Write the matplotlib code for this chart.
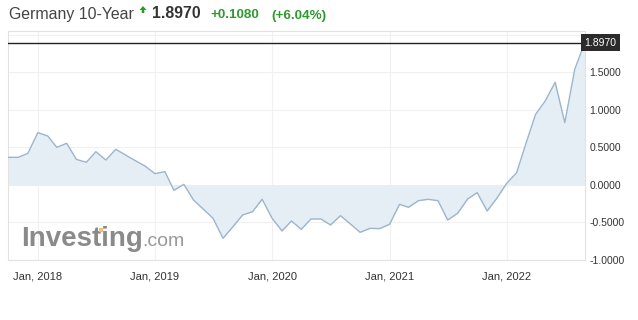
import matplotlib
matplotlib.use("Agg")
import matplotlib.pyplot as plt
import matplotlib.dates as mdates
from matplotlib.patches import Polygon
import pandas as pd
import numpy as np

# ---- data ----
start_month = "2017-10-01"
yields = [0.369, 0.369, 0.422, 0.698, 0.653, 0.502, 0.556, 0.342, 0.302, 0.444,
          0.333, 0.476, 0.400, 0.324, 0.253, 0.151, 0.178, -0.071, 0.009, -0.200,
          -0.324, -0.444, -0.711, -0.556, -0.400, -0.356, -0.191, -0.444, -0.613, -0.480,
          -0.591, -0.453, -0.453, -0.533, -0.409, -0.520, -0.631, -0.578, -0.582, -0.524,
          -0.258, -0.298, -0.209, -0.191, -0.209, -0.467, -0.378, -0.187, -0.102, -0.347,
          -0.178, 0.022, 0.164, 0.542, 0.942, 1.120, 1.369, 0.831, 1.542, 1.897]
dates = pd.date_range(start_month, periods=len(yields), freq="MS")
last_value = 1.8970
title_name = "Germany 10-Year"
title_price = "1.8970"
title_change = "+0.1080"
title_pct = "(+6.04%)"
ytick_values = [-1.0, -0.5, 0.0, 0.5, 1.0, 1.5]
xtick_years = [2018, 2019, 2020, 2021, 2022]

W, H = 638, 320
fig = plt.figure(figsize=(W / 100, H / 100), dpi=100)
fig.patch.set_facecolor("white")
plt.rcParams["font.family"] = ["Liberation Sans", "DejaVu Sans"]


def px(x, y):
    return x / W, 1 - y / H


# axes placement in pixels
L, R, T, B = 8.3, 584.7, 31, 260
ax = fig.add_axes([L / W, 1 - B / H, (R - L) / W, (B - T) / H])

line_c = "#9bb5cc"
fill_c = "#e6eef5"
ax.fill_between(dates, yields, 0, color=fill_c, lw=0, zorder=1)
ax.plot(dates, yields, color=line_c, lw=1.0, zorder=3)
ax.axhline(last_value, color="#222222", lw=1.0, zorder=4)

ax.set_xlim(dates[0], dates[-1])
ax.set_ylim(-1.0, 2.053)

# grid
ax.set_yticks(ytick_values + [2.0])
ax.set_yticklabels([f"{v:.4f}" for v in ytick_values] + [""])
xt = [pd.Timestamp(f"{y}-01-01") for y in xtick_years]
ax.set_xticks(xt)
ax.set_xticklabels([f"Jan, {y}" for y in xtick_years])
ax.grid(True, color="#f0f0f0", lw=0.8, zorder=0)
ax.set_axisbelow(True)

ax.yaxis.tick_right()
ax.tick_params(axis="y", length=0, pad=3.5, labelsize=7.5, labelcolor="#333333")
ax.tick_params(axis="x", length=0, pad=8.5, labelsize=8, labelcolor="#333333")
for lab in ax.get_yticklabels():
    lab.set_horizontalalignment("left")
for s in ax.spines.values():
    s.set_color("#e2e2e2")
    s.set_linewidth(0.8)

# price box on right
ax.text(1.0, last_value, title_price, transform=ax.get_yaxis_transform(),
        ha="left", va="center", fontsize=7.5, color="white", zorder=10,
        bbox=dict(boxstyle="square,pad=0.35", fc="#2b2b2b", ec="none"))

# watermark
ax.text(0.023, 0.061, "Investing", transform=ax.transAxes, fontsize=20,
        fontweight="bold", color="#8a8a8a", ha="left", va="baseline", zorder=2)
ax.text(0.233, 0.061, ".com", transform=ax.transAxes, fontsize=14,
        color="#9a9a9a", ha="left", va="baseline", zorder=2)
# orange accent on the "t" of the watermark
dot = Polygon([px(98.5, 228), px(102.5, 228), px(102.5, 231.5), px(98.5, 231.5)],
              closed=True, transform=fig.transFigure, fc="#f2c078", ec="none", zorder=3)
fig.patches.append(dot)

# header
fig.text(*px(9, 18.5), title_name, fontsize=11.4, color="#444444", va="baseline", ha="left")
arrow = Polygon([px(143, 6), px(146.5, 10), px(144.3, 10), px(144.3, 13),
                 px(141.7, 13), px(141.7, 10), px(139.5, 10)],
                closed=True, transform=fig.transFigure, fc="#2e9a2e", ec="none")
fig.patches.append(arrow)
fig.text(*px(152, 18.5), title_price, fontsize=11.4, fontweight="bold",
         color="#333333", va="baseline", ha="left")
fig.text(*px(210.5, 18.5), title_change, fontsize=9.7, fontweight="bold",
         color="#2e9a2e", va="baseline", ha="left")
fig.text(*px(271.5, 18.5), title_pct, fontsize=9.7, fontweight="bold",
         color="#2e9a2e", va="baseline", ha="left")

fig.savefig("out.png", dpi=100, facecolor="white")
